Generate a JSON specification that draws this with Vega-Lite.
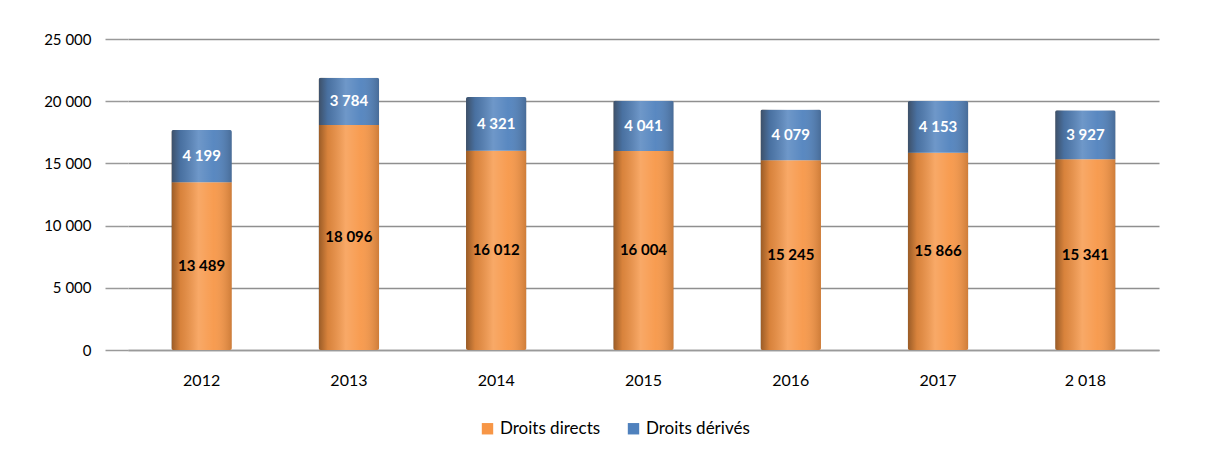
{
  "$schema": "https://vega.github.io/schema/vega-lite/v6.json",
  "width": 1031,
  "height": 311,
  "autosize": "none",
  "padding": {"left": 128, "top": 39, "right": 46, "bottom": 102},
  "background": "white",
  "config": {
    "locale": {"number": {"decimal": ",", "thousands": " ", "grouping": [3], "currency": ["", " €"]}},
    "font": "Lato",
    "view": {"stroke": null}
  },
  "data": {
    "values": [
      {"year": "2012", "series": "Droits directs", "value": 13489},
      {"year": "2012", "series": "Droits dérivés", "value": 4199},
      {"year": "2013", "series": "Droits directs", "value": 18096},
      {"year": "2013", "series": "Droits dérivés", "value": 3784},
      {"year": "2014", "series": "Droits directs", "value": 16012},
      {"year": "2014", "series": "Droits dérivés", "value": 4321},
      {"year": "2015", "series": "Droits directs", "value": 16004},
      {"year": "2015", "series": "Droits dérivés", "value": 4041},
      {"year": "2016", "series": "Droits directs", "value": 15245},
      {"year": "2016", "series": "Droits dérivés", "value": 4079},
      {"year": "2017", "series": "Droits directs", "value": 15866},
      {"year": "2017", "series": "Droits dérivés", "value": 4153},
      {"year": "2 018", "series": "Droits directs", "value": 15341},
      {"year": "2 018", "series": "Droits dérivés", "value": 3927}
    ]
  },
  "encoding": {
    "x": {
      "field": "year", "type": "nominal", "sort": null,
      "scale": {"paddingInner": 0.59, "paddingOuter": 0.295},
      "axis": {"title": null, "labelAngle": 0, "labelFontSize": 16, "labelColor": "#000000", "labelPadding": 22, "ticks": false, "domainColor": "#9a9a9a", "domainWidth": 1.5, "grid": false}
    }
  },
  "layer": [
    {
      "mark": {"type": "bar", "cornerRadius": 2},
      "encoding": {
        "y": {
          "field": "value", "type": "quantitative", "stack": "zero",
          "scale": {"domain": [0, 25000], "nice": false},
          "axis": {"title": null, "values": [0, 5000, 10000, 15000, 20000, 25000], "format": ",d", "labelFontSize": 15, "labelColor": "#000000", "tickSize": 23, "tickColor": "#9a9a9a", "tickWidth": 1.5, "labelPadding": 14, "domain": false, "gridColor": "#8f8f8f", "gridWidth": 1.5}
        },
        "order": {"field": "series", "sort": "ascending"},
        "color": {
          "field": "series", "type": "nominal",
          "scale": {"domain": ["Droits directs", "Droits dérivés"], "range": ["#F79646", "#4F81BD"]},
          "legend": {"title": null, "orient": "none", "legendX": 351, "legendY": 381, "direction": "horizontal", "symbolType": "square", "symbolSize": 130, "labelFontSize": 17, "labelColor": "#000000", "columnPadding": 24, "symbolStrokeWidth": 0, "symbolOpacity": 1}
        }
      }
    },
    {
      "mark": {
        "type": "bar",
        "cornerRadius": 2,
        "fill": {
          "gradient": "linear", "x1": 0, "x2": 1, "y1": 0, "y2": 0,
          "stops": [
            {"offset": 0, "color": "rgba(40,20,0,0.45)"},
            {"offset": 0.15, "color": "rgba(40,20,0,0.15)"},
            {"offset": 0.45, "color": "rgba(255,255,255,0.18)"},
            {"offset": 0.7, "color": "rgba(255,255,255,0.06)"},
            {"offset": 1, "color": "rgba(40,20,0,0.2)"}
          ]
        }
      },
      "encoding": {
        "y": {"aggregate": "sum", "field": "value", "type": "quantitative"}
      }
    },
    {
      "mark": {"type": "text", "fontWeight": "bold", "fontSize": 15},
      "encoding": {
        "y": {"field": "value", "type": "quantitative", "stack": "zero", "bandPosition": 0.5},
        "detail": {"field": "series"},
        "order": {"field": "series", "sort": "ascending"},
        "text": {"field": "value", "type": "quantitative", "format": ",d"},
        "color": {"condition": {"test": "datum.series === 'Droits dérivés'", "value": "#ffffff"}, "value": "#000000"}
      }
    }
  ]
}
